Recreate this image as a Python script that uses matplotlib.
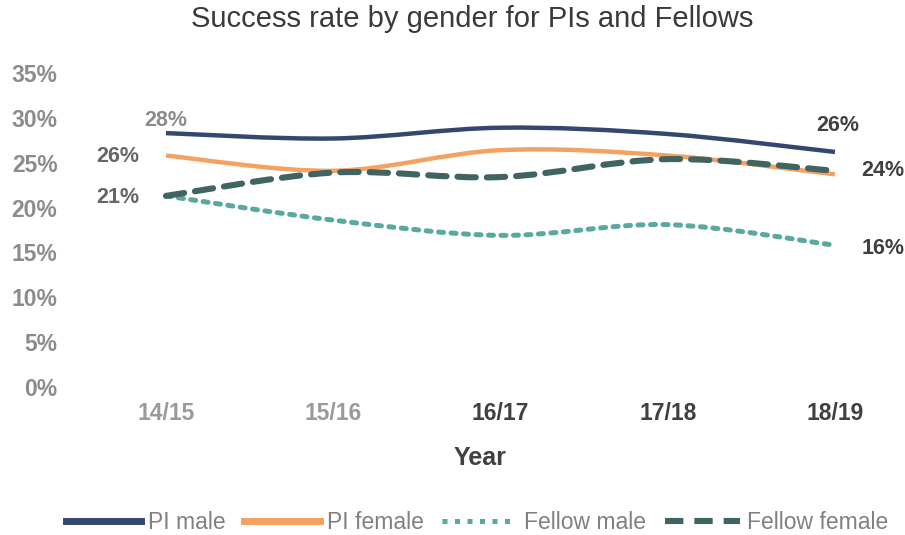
import matplotlib.pyplot as plt
from matplotlib.path import Path
from matplotlib.patches import PathPatch

# Success rate by gender, PIs vs Fellows
years = ["14/15", "15/16", "16/17", "17/18", "18/19"]
pi_male = [0.283, 0.277, 0.289, 0.282, 0.262]
pi_female = [0.258, 0.241, 0.264, 0.258, 0.237]
fellow_male = [0.213, 0.186, 0.169, 0.181, 0.158]
fellow_female = [0.213, 0.239, 0.234, 0.254, 0.241]

year_colors = ["#9a9a9a", "#9a9a9a", "#404040", "#404040", "#404040"]

plt.rcParams['font.family'] = ['Liberation Sans', 'DejaVu Sans']


def smooth_line(ax, xs, ys, **kw):
    # excel-like smoothed line: catmull-rom segments as cubic beziers
    pts = list(zip(xs, ys))
    verts = [pts[0]]
    codes = [Path.MOVETO]
    n = len(pts)
    for i in range(n - 1):
        p0 = pts[max(i - 1, 0)]
        p1 = pts[i]
        p2 = pts[i + 1]
        p3 = pts[min(i + 2, n - 1)]
        c1 = (p1[0] + (p2[0] - p0[0]) / 6, p1[1] + (p2[1] - p0[1]) / 6)
        c2 = (p2[0] - (p3[0] - p1[0]) / 6, p2[1] - (p3[1] - p1[1]) / 6)
        verts += [c1, c2, p2]
        codes += [Path.CURVE4] * 3
    label = kw.pop("label")
    ax.add_patch(PathPatch(Path(verts, codes), fill=False, **kw))
    # proxy for the legend
    ax.plot([], [], color=kw["edgecolor"], lw=kw["lw"], linestyle=kw.get("linestyle", "-"),
            label=label)


fig = plt.figure(figsize=(9.05, 5.35), dpi=100)
ax = fig.add_axes([70/905, 1 - 387/535, 820/905, 314/535])

x = list(range(len(years)))
smooth_line(ax, x, pi_male, edgecolor="#34476f", lw=3.2, capstyle="butt", label="PI male")
smooth_line(ax, x, pi_female, edgecolor="#f4a261", lw=3.2, capstyle="butt", label="PI female")
smooth_line(ax, x, fellow_male, edgecolor="#5aa9a0", lw=3.6, linestyle=(0, (1, 1.5)),
            capstyle="round", label="Fellow male")
smooth_line(ax, x, fellow_female, edgecolor="#3f6461", lw=4.4, linestyle=(0, (3.0, 1.8)),
            capstyle="round", label="Fellow female")

# data labels
lab = dict(fontsize=15.5, fontweight="bold")
ax.annotate(f"{pi_male[0]:.0%}", (x[0], pi_male[0]), xytext=(0, 5),
            textcoords="offset points", ha="center", color="#8c8c8c", **lab)
ax.annotate(f"{pi_female[0]:.0%}", (x[0], pi_female[0]), xytext=(-19, -1),
            textcoords="offset points", ha="right", va="center", color="#666666", **lab)
ax.annotate(f"{fellow_female[0]:.0%}", (x[0], fellow_female[0]), xytext=(-19, -1),
            textcoords="offset points", ha="right", va="center", color="#666666", **lab)
ax.annotate(f"{pi_male[-1]:.0%}", (x[-1], pi_male[-1]), xytext=(2, 15),
            textcoords="offset points", ha="center", color="#404040", **lab)
ax.annotate(f"{fellow_female[-1]:.0%}", (x[-1], fellow_female[-1]), xytext=(19, 0),
            textcoords="offset points", ha="left", va="center", color="#404040", **lab)
ax.annotate(f"{fellow_male[-1]:.0%}", (x[-1], fellow_male[-1]), xytext=(19, -2),
            textcoords="offset points", ha="left", va="center", color="#404040", **lab)

ax.set_xlim(-0.574, 4.329)
ax.set_ylim(0, 0.35)
ax.set_yticks([i / 100 for i in range(0, 36, 5)])
ax.set_yticklabels([f"{i}%" for i in range(0, 36, 5)], fontsize=16.5,
                   fontweight="bold", color="#8c8c8c")
ax.set_xticks(x)
ax.set_xticklabels(years, fontsize=16.5, fontweight="bold")
for t, c in zip(ax.get_xticklabels(), year_colors):
    t.set_color(c)
ax.tick_params(axis="x", length=0, pad=11)
ax.tick_params(axis="y", length=0, pad=9)
for s in ax.spines.values():
    s.set_visible(False)

ax.set_xlabel("Year", fontsize=18, fontweight="bold", color="#404040", labelpad=15)
fig.suptitle("Success rate by gender for PIs and Fellows", fontsize=21,
             color="#3a3a3a", x=0.522, y=0.99)

leg = fig.legend(loc="lower center", bbox_to_anchor=(0.527, -0.037), ncol=4, frameon=False,
                 fontsize=16.5, handlelength=3.3, columnspacing=0.8, handletextpad=0.3,
                 labelcolor="#808080")
for ln in leg.get_lines()[:2]:
    ln.set_linewidth(5)

fig.savefig("out.png", dpi=100)
